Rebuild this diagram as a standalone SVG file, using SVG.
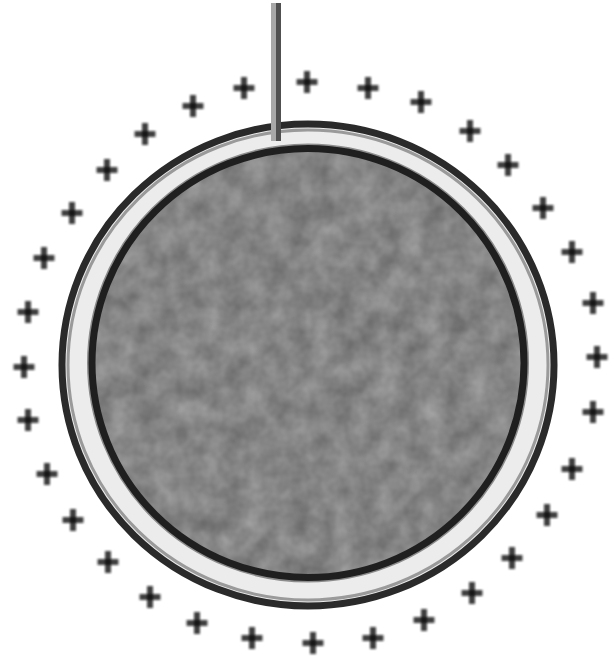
<svg xmlns="http://www.w3.org/2000/svg" xmlns:xlink="http://www.w3.org/1999/xlink" width="612" height="658" viewBox="0 0 612 658">
<style>
.pl rect{fill:#111;fill-opacity:0.8}
</style>
<defs>
<filter id="soft" x="-50%" y="-50%" width="200%" height="200%"><feGaussianBlur stdDeviation="1"/></filter>
<filter id="tex" x="0" y="0" width="1" height="1" color-interpolation-filters="sRGB">
<feTurbulence type="fractalNoise" baseFrequency="0.045" numOctaves="3" seed="4" result="n"/>
<feColorMatrix in="n" type="matrix" values="0.26 0 0 0 0.39  0.26 0 0 0 0.39  0.26 0 0 0 0.39  0 0 0 0 1" result="g"/>
<feComposite in="g" in2="SourceGraphic" operator="in"/>
</filter>
<g id="plus" class="pl">
<rect x="-10.5" y="-3" width="21" height="6"/>
<rect x="-3" y="-11" width="6" height="22"/>
</g>
</defs>
<rect width="612" height="658" fill="#fff"/>
<g id="cell">
<ellipse cx="308" cy="365" rx="246" ry="241" fill="#ececec" stroke="#2a2a2a" stroke-width="7"/>
<ellipse cx="308" cy="365" rx="240" ry="235" fill="none" stroke="#9a9a9a" stroke-width="3"/>
<ellipse cx="308" cy="363" rx="216" ry="214.5" fill="#858585" filter="url(#tex)"/>
<ellipse cx="308" cy="363" rx="219.5" ry="218" fill="none" stroke="#8c8c8c" stroke-width="3"/>
<ellipse cx="308" cy="363" rx="216" ry="214.5" fill="none" stroke="#1f1f1f" stroke-width="7"/>
</g>
<g id="connectors">
<rect x="271" y="3" width="5" height="138" fill="#a8a8a8"/>
<rect x="276" y="3" width="5" height="138" fill="#505050"/>
</g>
<g id="charges" filter="url(#soft)">
<use xlink:href="#plus" x="307" y="82"/>
<use xlink:href="#plus" x="368" y="88"/>
<use xlink:href="#plus" x="244" y="88"/>
<use xlink:href="#plus" x="421" y="102"/>
<use xlink:href="#plus" x="193" y="106"/>
<use xlink:href="#plus" x="470" y="131"/>
<use xlink:href="#plus" x="145" y="134"/>
<use xlink:href="#plus" x="508" y="165"/>
<use xlink:href="#plus" x="107" y="170"/>
<use xlink:href="#plus" x="543" y="208"/>
<use xlink:href="#plus" x="72" y="213"/>
<use xlink:href="#plus" x="572" y="252"/>
<use xlink:href="#plus" x="44" y="258"/>
<use xlink:href="#plus" x="593" y="303"/>
<use xlink:href="#plus" x="28" y="312"/>
<use xlink:href="#plus" x="597" y="357"/>
<use xlink:href="#plus" x="24" y="367"/>
<use xlink:href="#plus" x="593" y="412"/>
<use xlink:href="#plus" x="28" y="420"/>
<use xlink:href="#plus" x="572" y="469"/>
<use xlink:href="#plus" x="47" y="474"/>
<use xlink:href="#plus" x="547" y="515"/>
<use xlink:href="#plus" x="73" y="520"/>
<use xlink:href="#plus" x="512" y="558"/>
<use xlink:href="#plus" x="108" y="562"/>
<use xlink:href="#plus" x="472" y="593"/>
<use xlink:href="#plus" x="150" y="597"/>
<use xlink:href="#plus" x="424" y="620"/>
<use xlink:href="#plus" x="197" y="623"/>
<use xlink:href="#plus" x="373" y="638"/>
<use xlink:href="#plus" x="252" y="638"/>
<use xlink:href="#plus" x="313" y="643"/>
</g>
</svg>
